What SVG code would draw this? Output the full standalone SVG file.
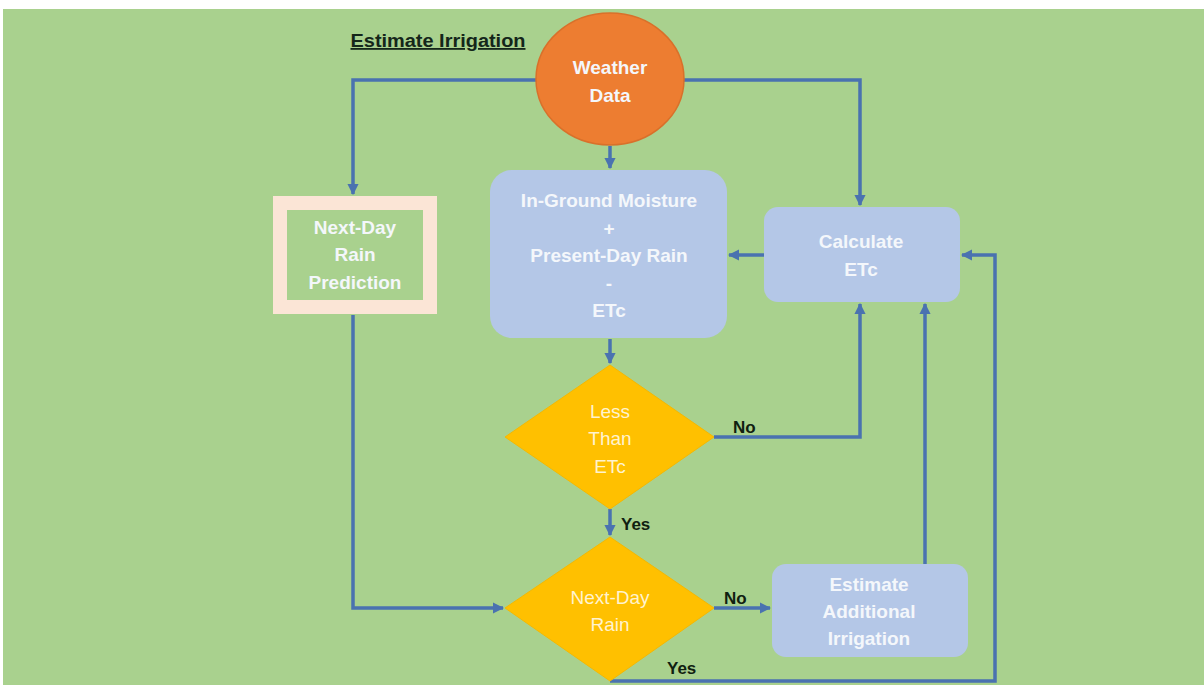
<svg xmlns="http://www.w3.org/2000/svg" width="1204" height="685" viewBox="0 0 1204 685">
<style>
.lbl{font-family:"Liberation Sans",Arial,sans-serif;font-weight:bold;font-size:19px;text-anchor:middle;fill:#F4F7FB}
.dl{font-family:"Liberation Sans",Arial,sans-serif;font-size:19px;text-anchor:middle;fill:#FFF3CF}
.ans{font-family:"Liberation Sans",Arial,sans-serif;font-weight:bold;font-size:17px;fill:#102010}
.box{fill:#B4C7E7}
.dia{fill:#FFC000;stroke:#F5B800;stroke-width:1}
.con{fill:none;stroke:#4A72B0;stroke-width:3.5}
</style>
<defs>
<marker id="ah" viewBox="0 0 10 10" refX="9" refY="5" markerWidth="3.2" markerHeight="3.2" orient="auto" markerUnits="strokeWidth">
<path d="M0,0 L10,5 L0,10 z" fill="#4A72B0"/>
</marker>
</defs>
<rect x="0" y="0" width="1204" height="685" fill="#FFFFFF"/>
<rect x="3" y="9" width="1201" height="676" fill="#A9D18E"/>
<text x="438" y="47" font-family="'Liberation Sans',Arial,sans-serif" font-weight="bold" font-size="18" text-anchor="middle" fill="#14261A" text-decoration="underline" textLength="175" lengthAdjust="spacingAndGlyphs">Estimate Irrigation</text>
<g id="connectors">
<polyline class="con" points="538,80 353,80 353,194" marker-end="url(#ah)"/>
<polyline class="con" points="683,80 860,80 860,205" marker-end="url(#ah)"/>
<line class="con" x1="610" y1="146" x2="610" y2="168" marker-end="url(#ah)"/>
<line class="con" x1="764" y1="255" x2="729" y2="255" marker-end="url(#ah)"/>
<line class="con" x1="610" y1="339" x2="610" y2="363" marker-end="url(#ah)"/>
<polyline class="con" points="714,437 860,437 860,304" marker-end="url(#ah)"/>
<line class="con" x1="610" y1="509" x2="610" y2="535" marker-end="url(#ah)"/>
<polyline class="con" points="353,315 353,608 503,608" marker-end="url(#ah)"/>
<line class="con" x1="714" y1="608" x2="770" y2="608" marker-end="url(#ah)"/>
<line class="con" x1="925" y1="564" x2="925" y2="304" marker-end="url(#ah)"/>
<polyline class="con" points="610,681 995,681 995,255 962,255" marker-end="url(#ah)"/>
</g>
<g id="weather">
<ellipse cx="610" cy="79" rx="74" ry="66" fill="#ED7D31" stroke="#D9702A" stroke-width="1.5"/>
<text class="lbl" x="610" y="74">Weather</text>
<text class="lbl" x="610" y="102">Data</text>
</g>
<g id="nextday">
<rect x="280" y="203" width="150" height="104" fill="#A9D18E" stroke="#FBE5D6" stroke-width="14"/>
<text class="lbl" x="355" y="234">Next-Day</text>
<text class="lbl" x="355" y="261">Rain</text>
<text class="lbl" x="355" y="289">Prediction</text>
</g>
<g id="inground">
<rect class="box" x="490" y="170" width="237" height="168" rx="22"/>
<text class="lbl" x="609" y="207">In-Ground Moisture</text>
<text class="lbl" x="609" y="235">+</text>
<text class="lbl" x="609" y="262">Present-Day Rain</text>
<text class="lbl" x="609" y="290">-</text>
<text class="lbl" x="609" y="317">ETc</text>
</g>
<g id="calculate">
<rect class="box" x="764" y="207" width="196" height="95" rx="14"/>
<text class="lbl" x="861" y="248">Calculate</text>
<text class="lbl" x="861" y="276">ETc</text>
</g>
<g id="lessthan">
<polygon class="dia" points="610,365 714,437 610,509 505,437"/>
<text class="dl" x="610" y="418">Less</text>
<text class="dl" x="610" y="445">Than</text>
<text class="dl" x="610" y="473">ETc</text>
</g>
<g id="nextdayrain">
<polygon class="dia" points="610,537 714,608 610,681 505,608"/>
<text class="dl" x="610" y="604">Next-Day</text>
<text class="dl" x="610" y="631">Rain</text>
</g>
<g id="estimate">
<rect class="box" x="772" y="564" width="196" height="93" rx="14"/>
<text class="lbl" x="869" y="591">Estimate</text>
<text class="lbl" x="869" y="618">Additional</text>
<text class="lbl" x="869" y="645">Irrigation</text>
</g>
<g id="labels">
<text class="ans" x="733" y="433">No</text>
<text class="ans" x="621" y="530">Yes</text>
<text class="ans" x="724" y="604">No</text>
<text class="ans" x="667" y="674">Yes</text>
</g>
</svg>
